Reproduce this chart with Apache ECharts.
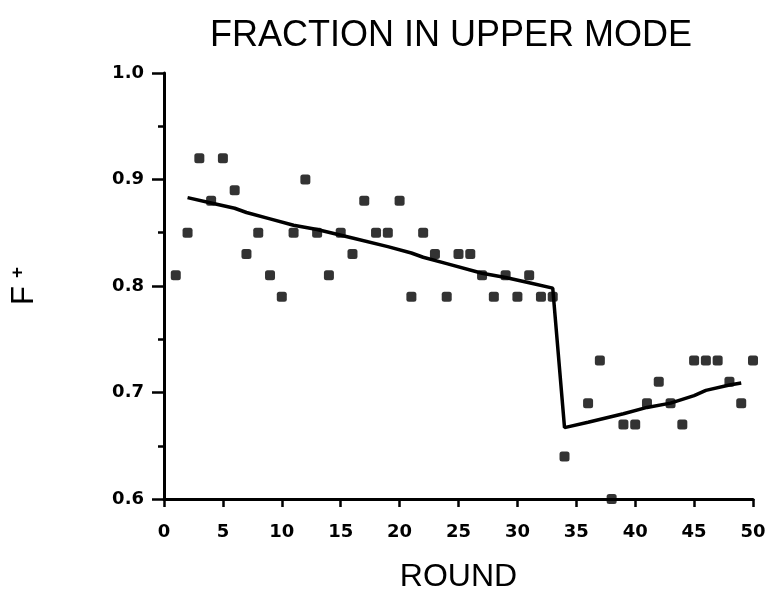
<!DOCTYPE html>
<html>
<head>
<meta charset="utf-8">
<script src="https://cdn.jsdelivr.net/npm/echarts@6/dist/echarts.min.js"></script>
<style>html,body{margin:0;padding:0;background:#fff;}#c{width:768px;height:592px;}</style>
</head>
<body>
<div id="c"></div>
<script>
const titleText = 'FRACTION IN UPPER MODE';
const xAxisName = 'ROUND';
const xTicks = [0, 50, 5];     // min, max, step
const yTicks = [0.6, 1.0, 0.1];

const rounds = [1,2,3,4,5,6,7,8,9,10,11,12,13,14,15,16,17,18,19,20,21,22,23,24,25,26,27,28,29,30,31,32,33,34,
                36,37,38,39,40,41,42,43,44,45,46,47,48,49,50];
const fPlus = [0.81,0.85,0.92,0.88,0.92,0.89,0.83,0.85,0.81,0.79,0.85,0.90,0.85,0.81,0.85,0.83,0.88,0.85,0.85,0.88,
               0.79,0.85,0.83,0.79,0.83,0.83,0.81,0.79,0.81,0.79,0.81,0.79,0.79,0.64,
               0.69,0.73,0.60,0.67,0.67,0.69,0.71,0.69,0.67,0.73,0.73,0.73,0.71,0.69,0.73];

const trendRounds = [2,4,6,7,9,11,13,16,19,21,22,24,27,29,31,33,34,36,39,41,43,45,46,48,49];
const trendValues = [0.883,0.878,0.873,0.869,0.863,0.857,0.853,0.845,0.837,0.831,0.827,0.821,0.812,0.808,0.803,0.798,
                     0.667,0.672,0.680,0.686,0.690,0.697,0.702,0.707,0.709];

const chart = echarts.init(document.getElementById('c'), null, {renderer: 'canvas'});
const labelFont = {fontFamily: 'DejaVu Sans', fontWeight: 'bold', fontSize: 18, color: '#000'};
chart.setOption({
  animation: false,
  backgroundColor: '#fff',
  title: {
    text: titleText, left: 205, top: 13,
    textStyle: {fontFamily: 'Liberation Sans', fontWeight: 'normal', fontSize: 36, color: '#000'}
  },
  grid: {left: 164, right: 15, top: 73, bottom: 93, outerBoundsMode: 'none', containLabel: false},
  xAxis: {
    type: 'value', min: xTicks[0], max: xTicks[1], interval: xTicks[2],
    name: xAxisName, nameLocation: 'middle', nameGap: 62,
    nameTextStyle: {fontFamily: 'Liberation Sans', fontSize: 32, color: '#000'},
    axisLine: {lineStyle: {color: '#000', width: 3}},
    axisTick: {show: true, inside: false, length: 8, lineStyle: {color: '#000', width: 2.5}},
    axisLabel: Object.assign({margin: 24}, labelFont),
    splitLine: {show: false}
  },
  yAxis: {
    type: 'value', min: yTicks[0], max: yTicks[1], interval: yTicks[2],
    name: '{f|F}{s|+}', nameLocation: 'middle', nameGap: 124, nameRotate: 90,
    nameTextStyle: {
      color: '#000',
      rich: {
        f: {fontFamily: 'Liberation Sans', fontSize: 31, color: '#000', lineHeight: 32},
        s: {fontFamily: 'Liberation Sans', fontWeight: 'bold', fontSize: 19, color: '#000', verticalAlign: 'top', padding: [0,0,0,8]}
      }
    },
    axisLine: {show: true, lineStyle: {color: '#000', width: 3}},
    axisTick: {show: true, inside: false, length: 12, lineStyle: {color: '#000', width: 2.5}},
    minorTick: {show: true, splitNumber: 2, length: 6, lineStyle: {color: '#000', width: 2.5}},
    axisLabel: Object.assign({margin: 20, formatter: v => v.toFixed(1)}, labelFont),
    splitLine: {show: false}
  },
  series: [
    {
      type: 'scatter', clip: false,
      symbol: 'roundRect', symbolSize: 10,
      itemStyle: {color: '#000'},
      data: rounds.map((r, i) => [r, fPlus[i]])
    },
    {
      type: 'line', showSymbol: false, symbol: 'none',
      lineStyle: {color: '#000', width: 3.5},
      data: trendRounds.map((r, i) => [r, trendValues[i]])
    }
  ]
});
</script>
</body>
</html>
